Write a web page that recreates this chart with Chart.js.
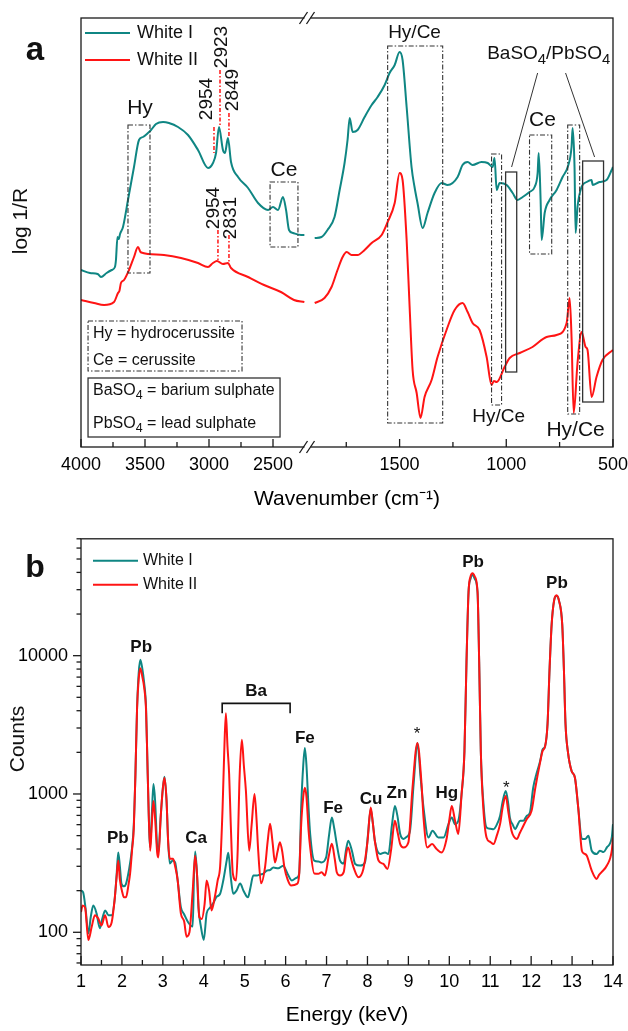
<!DOCTYPE html>
<html><head><meta charset="utf-8">
<script src="https://cdn.jsdelivr.net/npm/chart.js@4.4.1/dist/chart.umd.min.js"></script>
<style>
html,body{margin:0;padding:0;background:#fff;}
#wrap{position:relative;width:628px;height:1031px;}
canvas{position:absolute;left:0;}
#c1{top:0;} #c2{top:515px;}
</style></head><body>
<div id="wrap"><canvas id="c1" width="628" height="515"></canvas><canvas id="c2" width="628" height="516"></canvas></div>
<script>
const FONT = "'Liberation Sans', Arial, Helvetica, sans-serif";
const TEAL = '#0f8683';
const RED = '#ff1414';

// ---------- Panel a : FTIR (log 1/R, arbitrary units) ----------
const ftirWnI = [4000,3930,3870,3844,3800,3760,3735,3727,3715,3705,3695,3672,3633,3586,3547,3516,3477,3453,3414,3359,3313,3242,3164,3086,3008,2969,2945,2922,2891,2875,2852,2828,2773,2695,2617,2539,2500,2461,2422,2398,2375,2344,2281,2255,
  1898,1866,1838,1805,1781,1758,1744,1734,1720,1697,1664,1631,1603,1570,1547,1523,1500,1486,1467,1444,1430,1416,1392,1369,1336,1303,1275,1228,1205,1181,1158,1116,1087,1064,1055,1045,1031,998,970,947,923,891,867,853,848,839,834,820,797,764,736,712,694,689,680,675,666,647,623,600,595,563,530,506,500];
const ftirI = [1.77,1.74,1.73,1.70,1.74,1.77,1.80,1.87,2.10,2.08,2.13,2.20,2.47,2.80,3.07,3.10,3.14,3.17,3.23,3.25,3.24,3.20,3.12,2.97,2.79,2.84,2.94,3.20,2.97,2.94,3.09,2.85,2.70,2.59,2.44,2.37,2.40,2.37,2.50,2.37,2.17,2.14,2.12,2.12,
  2.09,2.10,2.17,2.30,2.57,2.84,3.07,3.29,3.15,3.17,3.30,3.42,3.50,3.62,3.74,3.82,3.95,3.87,3.40,2.80,2.60,2.44,2.19,2.34,2.54,2.64,2.62,2.70,2.82,2.85,2.82,2.85,2.84,2.80,2.89,2.57,2.64,2.62,2.54,2.47,2.50,2.55,2.60,2.74,2.94,2.47,2.07,2.34,2.47,2.57,2.70,2.80,3.00,3.19,2.80,2.14,2.40,2.60,2.65,2.67,2.62,2.65,2.67,2.77,2.80];
const ftirWnII = [4000,3898,3820,3742,3711,3700,3688,3664,3625,3586,3555,3535,3516,3477,3352,3219,3086,3008,2969,2938,2891,2852,2828,2695,2570,2438,2336,2255,
  1898,1852,1819,1791,1767,1748,1725,1697,1664,1631,1584,1556,1523,1500,1486,1467,1453,1439,1420,1402,1383,1350,1322,1275,1242,1205,1181,1158,1125,1092,1069,1058,1045,1008,984,937,877,811,764,717,703,694,684,666,647,628,619,600,577,549,500];
const ftirII = [1.47,1.44,1.42,1.45,1.54,1.56,1.64,1.67,1.77,1.90,2.00,1.95,1.94,1.93,1.92,1.89,1.84,1.80,1.84,1.86,1.83,1.84,1.79,1.70,1.62,1.55,1.47,1.45,
  1.44,1.49,1.60,1.77,1.90,1.95,1.92,1.92,1.97,2.04,2.12,2.25,2.44,2.74,2.67,2.07,1.40,0.77,0.54,0.29,0.50,0.67,0.90,1.20,1.37,1.44,1.35,1.24,1.17,0.90,0.62,0.66,0.65,0.80,0.89,0.94,1.00,1.10,1.12,1.24,1.49,1.10,0.34,0.84,1.15,1.00,0.97,0.50,0.70,0.87,0.97];
const wnMajorTicks = [4000,3500,3000,2500,1500,1000,500];
const wnMinorTicks = [3750,3250,2750,1750,1250,750];

// ---------- Panel b : XRF ----------
const xrfEnI = [1.00,1.05,1.11,1.18,1.24,1.30,1.38,1.46,1.52,1.59,1.67,1.75,1.82,1.87,1.91,1.95,1.99,2.05,2.10,2.17,2.24,2.29,2.33,2.37,2.41,2.45,2.50,2.54,2.59,2.63,2.69,2.73,2.77,2.81,2.86,2.89,2.95,3.00,3.04,3.09,3.13,3.17,3.24,3.30,3.36,3.44,3.52,3.61,3.68,3.73,3.76,3.79,3.83,3.87,3.93,4.00,4.07,4.15,4.23,4.31,4.40,4.48,4.56,4.60,4.66,4.72,4.80,4.89,4.97,5.08,5.14,5.21,5.30,5.38,5.46,5.54,5.62,5.70,5.82,5.94,6.05,6.15,6.27,6.33,6.38,6.43,6.47,6.51,6.56,6.60,6.70,6.80,6.87,6.99,7.06,7.13,7.19,7.25,7.33,7.42,7.48,7.53,7.62,7.70,7.82,7.94,8.01,8.08,8.13,8.18,8.31,8.43,8.51,8.60,8.67,8.73,8.80,8.88,8.96,9.04,9.13,9.22,9.30,9.37,9.49,9.59,9.73,9.86,9.98,10.06,10.14,10.22,10.30,10.37,10.42,10.47,10.52,10.57,10.62,10.69,10.73,10.77,10.83,10.91,11.00,11.08,11.16,11.24,11.31,11.38,11.44,11.48,11.55,11.61,11.67,11.73,11.81,11.89,11.97,12.05,12.13,12.22,12.28,12.34,12.40,12.45,12.50,12.56,12.62,12.68,12.76,12.80,12.84,12.90,12.99,13.07,13.15,13.24,13.32,13.40,13.48,13.60,13.68,13.77,13.85,13.97,14.00];
const xrfI = [200,195,150,98,130,156,137,107,125,144,133,133,170,260,378,300,224,215,224,280,389,600,1393,4170,7500,9350,8000,6500,4170,1393,411,700,1180,900,420,378,700,1100,1330,900,450,314,330,320,240,152,135,119,112,110,250,384,280,152,110,88,137,150,162,180,190,240,330,376,250,190,200,225,200,179,210,257,257,262,266,279,282,294,290,303,264,237,248,264,797,1600,2150,1600,797,513,330,325,320,348,500,675,560,434,330,314,400,459,389,312,304,320,500,776,620,459,368,378,368,600,820,700,513,473,490,542,1200,2340,1300,797,485,542,485,485,605,675,605,640,1000,2040,9000,28800,36000,38500,36000,28800,9000,2040,890,572,560,557,600,694,900,1050,850,675,600,557,600,640,640,694,734,1110,1400,1730,2100,2210,3190,8000,16700,25000,27000,25000,16700,8000,3190,2000,1460,1310,797,473,473,499,389,368,389,380,411,485,605];
const xrfEnII = [1.00,1.04,1.10,1.18,1.26,1.34,1.42,1.50,1.59,1.67,1.75,1.82,1.87,1.91,1.95,2.00,2.05,2.10,2.16,2.20,2.25,2.29,2.33,2.37,2.41,2.45,2.50,2.54,2.59,2.63,2.69,2.73,2.77,2.82,2.86,2.89,2.95,3.00,3.04,3.09,3.13,3.17,3.25,3.30,3.36,3.44,3.52,3.58,3.65,3.73,3.79,3.84,3.89,3.95,4.02,4.07,4.13,4.19,4.27,4.34,4.40,4.46,4.50,4.54,4.58,4.62,4.66,4.71,4.79,4.83,4.87,4.93,4.98,5.03,5.11,5.17,5.24,5.29,5.33,5.40,5.50,5.56,5.62,5.68,5.74,5.80,5.86,5.92,5.97,6.05,6.13,6.28,6.33,6.38,6.43,6.47,6.51,6.56,6.60,6.70,6.80,6.88,6.96,7.05,7.13,7.20,7.25,7.33,7.42,7.48,7.53,7.60,7.66,7.78,7.90,8.00,8.08,8.13,8.18,8.27,8.39,8.49,8.58,8.67,8.73,8.80,8.88,9.00,9.10,9.22,9.32,9.37,9.46,9.58,9.69,9.81,9.94,10.00,10.06,10.14,10.22,10.30,10.37,10.42,10.47,10.52,10.57,10.62,10.69,10.73,10.77,10.83,10.91,11.00,11.08,11.16,11.24,11.31,11.38,11.44,11.52,11.58,11.65,11.72,11.77,11.89,12.01,12.10,12.22,12.28,12.34,12.40,12.45,12.50,12.56,12.62,12.68,12.76,12.80,12.84,12.90,12.99,13.07,13.15,13.24,13.30,13.36,13.48,13.60,13.66,13.72,13.85,13.97,14.00];
const xrfII = [140,156,151,88,109,133,126,112,133,109,118,170,250,330,240,200,179,179,220,266,400,560,1393,4170,6800,8110,7000,6000,4000,1393,389,600,890,600,380,348,700,1100,1310,900,450,340,340,300,240,137,120,93,100,200,358,250,129,125,160,237,200,144,180,237,300,797,2000,3840,2200,1390,600,266,237,400,1200,2470,1600,1050,389,600,1000,650,389,226,300,450,608,450,320,380,447,380,295,240,218,224,260,600,950,1110,950,550,411,266,265,272,257,350,437,340,272,257,272,370,411,340,295,250,287,450,797,620,459,330,312,287,400,640,540,434,411,447,1100,2340,1200,675,411,434,400,378,485,650,820,640,513,1000,2040,9000,28800,37500,39500,37500,28800,9000,2040,797,485,450,434,500,605,820,967,750,542,490,473,520,557,657,755,1100,1700,2050,2210,3190,8000,16700,25000,27400,25000,16700,8000,3190,2000,1460,1310,797,389,370,358,279,243,260,272,304,389,485];
const keVTicks = [1,2,3,4,5,6,7,8,9,10,11,12,13,14];
const countTicks = [100,1000,10000];

// broken wavenumber axis: 4000..2250 and 1920..500 mapped onto one linear scale
function tx(w){ return w > 2000 ? (4000 - w) * 0.128 : 229 + (1920 - w) * 0.21333; }
const T_BREAK = 226.5;

function ftirPoints(wn, vals){
  const pts = [];
  for (let i = 0; i < wn.length; i++){
    if (i > 0 && wn[i-1] > 2000 && wn[i] <= 2000) pts.push({x: (tx(wn[i-1]) + tx(wn[i])) / 2, y: null});
    pts.push({x: tx(wn[i]), y: vals[i]});
  }
  return pts;
}
function xyPoints(xs, ys){ return xs.map((v, i) => ({x: v, y: ys[i]})); }

// ---------- drawing helpers ----------
function font(size, bold){ return (bold ? 'bold ' : '') + size + 'px ' + FONT; }
function text(ctx, s, x, y, o = {}){
  ctx.save();
  ctx.font = font(o.size || 18, o.bold);
  ctx.fillStyle = o.color || '#111';
  ctx.textAlign = o.align || 'center';
  ctx.textBaseline = o.baseline || 'middle';
  ctx.translate(x, y);
  if (o.rot) ctx.rotate(o.rot);
  ctx.fillText(s, 0, 0);
  ctx.restore();
}
function rich(ctx, parts, x, y, size, align){
  ctx.save();
  ctx.fillStyle = '#111';
  ctx.textBaseline = 'alphabetic'; ctx.textAlign = 'left';
  const ws = parts.map(([s, sub]) => { ctx.font = font(sub ? size * 0.78 : size); return ctx.measureText(s).width; });
  const tot = ws.reduce((a, b) => a + b, 0);
  let cx = align === 'center' ? x - tot / 2 : x;
  const base = y + size * 0.35;
  parts.forEach(([s, sub], i) => { ctx.font = font(sub ? size * 0.78 : size); ctx.fillText(s, cx, sub ? base + size * 0.3 : base); cx += ws[i]; });
  ctx.restore();
}
function line(ctx, x1, y1, x2, y2){ ctx.beginPath(); ctx.moveTo(x1, y1); ctx.lineTo(x2, y2); ctx.stroke(); }

// ---------- annotations for panel a (data coordinates: wavenumber, log 1/R) ----------
const annBoxesA = [
  {w: [3633, 3461], v: [3.22, 1.74], dash: true},
  {w: [2523, 2305], v: [2.65, 2.00], dash: true},
  {w: [1556, 1298], v: [4.01, 0.24], dash: true},
  {w: [1069, 1022], v: [2.93, 0.42], dash: true},
  {w: [1003, 951], v: [2.75, 0.75], dash: false},
  {w: [891, 787], v: [3.12, 1.93], dash: true},
  {w: [712, 656], v: [3.22, 0.33], dash: true},
  {w: [642, 544], v: [2.86, 0.45], dash: false},
  {w: [3945, 2742], v: [1.26, 0.76], dash: true},
  {w: [3945, 2445], v: [0.69, 0.10], dash: false}
];
const annTextA = [
  {s: 'Hy', w: 3539, v: 3.39, size: 21},
  {s: 'Ce', w: 2414, v: 2.77, size: 21},
  {s: 'Hy/Ce', w: 1430, v: 4.14, size: 19},
  {s: 'Ce', w: 830, v: 3.27, size: 21},
  {s: 'Hy/Ce', w: 1036, v: 0.30, size: 19},
  {s: 'Hy/Ce', w: 675, v: 0.17, size: 21},
  {s: '2954', w: 3016, v: 3.48, size: 19, rot: true},
  {s: '2923', w: 2898, v: 4.00, size: 19, rot: true},
  {s: '2849', w: 2813, v: 3.57, size: 19, rot: true},
  {s: '2954', w: 2962, v: 2.39, size: 19, rot: true},
  {s: '2831', w: 2832, v: 2.29, size: 19, rot: true},
  {s: 'Hy = hydrocerussite', w: 3906, v: 1.13, size: 16, left: true},
  {s: 'Ce = cerussite', w: 3906, v: 0.86, size: 16, left: true}
];
const peakMarksA = [
  {w: 2961, v: [3.20, 2.94]}, {w: 2914, v: [3.77, 3.22]}, {w: 2844, v: [3.34, 3.10]},
  {w: 2930, v: [2.17, 1.87]}, {w: 2844, v: [2.12, 1.84]}
];

const annA = {
  id: 'annA',
  afterDraw(chart){
    const {ctx, chartArea: ca, scales: {x, y}} = chart;
    const P = (w, v) => [x.getPixelForValue(tx(w)), y.getPixelForValue(v)];
    ctx.save();
    // frame
    ctx.strokeStyle = '#1a1a1a'; ctx.lineWidth = 1.3;
    ctx.strokeRect(ca.left, ca.top, ca.width, ca.height);
    // inward ticks
    wnMajorTicks.forEach(w => { const px = x.getPixelForValue(tx(w)); line(ctx, px, ca.bottom, px, ca.bottom - 8); });
    wnMinorTicks.forEach(w => { const px = x.getPixelForValue(tx(w)); line(ctx, px, ca.bottom, px, ca.bottom - 5); });
    // axis break marks
    const bx = x.getPixelForValue(T_BREAK);
    [ca.top, ca.bottom].forEach(yy => {
      ctx.fillStyle = '#fff'; ctx.fillRect(bx - 3, yy - 3, 6, 6);
      ctx.strokeStyle = '#1a1a1a'; ctx.lineWidth = 1.3;
      line(ctx, bx - 8, yy + 6, bx, yy - 6);
      line(ctx, bx - 1, yy + 6, bx + 7, yy - 6);
    });
    // boxes
    annBoxesA.forEach(b => {
      const [x1, y1] = P(b.w[0], b.v[0]); const [x2, y2] = P(b.w[1], b.v[1]);
      ctx.strokeStyle = '#333';
      ctx.lineWidth = b.dash ? 1.1 : 1.3;
      ctx.setLineDash(b.dash ? [5, 2, 1.5, 2] : []);
      ctx.strokeRect(x1, y1, x2 - x1, y2 - y1);
    });
    ctx.setLineDash([]);
    // red peak marker lines
    ctx.strokeStyle = RED; ctx.lineWidth = 1.5; ctx.setLineDash([4, 2, 1.5, 2]);
    peakMarksA.forEach(m => { const [px, p1] = P(m.w, m.v[0]); const p2 = y.getPixelForValue(m.v[1]); line(ctx, px, p1, px, p2); });
    ctx.setLineDash([]);
    // leader lines to BaSO4/PbSO4
    ctx.strokeStyle = '#333'; ctx.lineWidth = 1;
    let a = P(853, 3.74), b = P(975, 2.80); line(ctx, a[0], a[1], b[0], b[1]);
    a = P(722, 3.74); b = P(586, 2.90); line(ctx, a[0], a[1], b[0], b[1]);
    // texts
    annTextA.forEach(t => {
      const [px, py] = P(t.w, t.v);
      text(ctx, t.s, px, py, {size: t.size, rot: t.rot ? -Math.PI / 2 : 0, align: t.left ? 'left' : 'center'});
    });
    let q = P(801, 3.95);
    rich(ctx, [['BaSO', 0], ['4', 1], ['/PbSO', 0], ['4', 1]], q[0], q[1], 19, 'center');
    q = P(3906, 0.58);
    rich(ctx, [['BaSO', 0], ['4', 1], [' = barium sulphate', 0]], q[0], q[1], 16, 'left');
    q = P(3906, 0.25);
    rich(ctx, [['PbSO', 0], ['4', 1], [' = lead sulphate', 0]], q[0], q[1], 16, 'left');
    // legend
    ctx.lineWidth = 2;
    ctx.strokeStyle = TEAL; line(ctx, ca.left + 4, ca.top + 15, ca.left + 49, ca.top + 15);
    ctx.strokeStyle = RED; line(ctx, ca.left + 4, ca.top + 42, ca.left + 49, ca.top + 42);
    text(ctx, 'White I', ca.left + 56, ca.top + 15, {size: 18, align: 'left'});
    text(ctx, 'White II', ca.left + 56, ca.top + 42, {size: 18, align: 'left'});
    // y title and panel letter
    text(ctx, 'log 1/R', 21, 221, {size: 21, rot: -Math.PI / 2});
    text(ctx, 'a', 35, 60, {size: 33, bold: true, baseline: 'alphabetic'});
    ctx.restore();
  }
};

// ---------- annotations for panel b (data coordinates: keV, counts) ----------
const annTextB = [
  {s: 'Pb', e: 1.90, c: 482}, {s: 'Pb', e: 2.47, c: 11400}, {s: 'Ca', e: 3.81, c: 482},
  {s: 'Ba', e: 5.28, c: 5510}, {s: 'Fe', e: 6.47, c: 2530}, {s: 'Fe', e: 7.16, c: 793},
  {s: 'Cu', e: 8.09, c: 920}, {s: 'Zn', e: 8.72, c: 1017}, {s: '*', e: 9.21, c: 2700},
  {s: 'Hg', e: 9.94, c: 1017}, {s: 'Pb', e: 10.58, c: 47400}, {s: 'Pb', e: 12.63, c: 33500},
  {s: '*', e: 11.39, c: 1100}
];
const baBracket = {e: [4.45, 6.11], c: [4520, 3830]};

const annB = {
  id: 'annB',
  afterDraw(chart){
    const {ctx, chartArea: ca, scales: {x, y}} = chart;
    const Q = (e, c) => [x.getPixelForValue(e), y.getPixelForValue(c)];
    ctx.save();
    ctx.strokeStyle = '#1a1a1a'; ctx.lineWidth = 1.3;
    ctx.strokeRect(ca.left, ca.top, ca.width, ca.height);
    // x ticks inward
    for (let e = 1; e <= 14.001; e += 0.5){
      const px = x.getPixelForValue(e);
      const major = Math.abs(e - Math.round(e)) < 0.01;
      line(ctx, px, ca.bottom, px, ca.bottom - (major ? 9 : 5));
    }
    // y ticks outward (log)
    for (let d = 10; d <= 10000; d *= 10){
      for (let m = 1; m <= 9; m++){
        const v = m * d;
        if (v < y.min || v > y.max) continue;
        const py = y.getPixelForValue(v);
        line(ctx, ca.left, py, ca.left - (m === 1 ? 8 : 4.5), py);
      }
    }
    // peak labels
    annTextB.forEach(t => { const [px, py] = Q(t.e, t.c); text(ctx, t.s, px, py, {size: 17, bold: t.s !== '*'}); });
    // Ba bracket
    ctx.lineWidth = 1.6; ctx.strokeStyle = '#111';
    const [bx1, by1] = Q(baBracket.e[0], baBracket.c[0]);
    const [bx2, by2] = Q(baBracket.e[1], baBracket.c[1]);
    ctx.beginPath(); ctx.moveTo(bx1, by2); ctx.lineTo(bx1, by1); ctx.lineTo(bx2, by1); ctx.lineTo(bx2, by2); ctx.stroke();
    // legend
    ctx.lineWidth = 2;
    ctx.strokeStyle = TEAL; line(ctx, ca.left + 12, ca.top + 22, ca.left + 57, ca.top + 22);
    ctx.strokeStyle = RED; line(ctx, ca.left + 12, ca.top + 46, ca.left + 57, ca.top + 46);
    text(ctx, 'White I', ca.left + 62, ca.top + 22, {size: 16, align: 'left'});
    text(ctx, 'White II', ca.left + 62, ca.top + 46, {size: 16, align: 'left'});
    text(ctx, 'Counts', 18, 224, {size: 21, rot: -Math.PI / 2});
    text(ctx, 'b', 35, 62, {size: 32, bold: true, baseline: 'alphabetic'});
    ctx.restore();
  }
};

const common = {responsive: false, animation: false, devicePixelRatio: 1, events: [],
  plugins: {legend: {display: false}, tooltip: {enabled: false}}};
const noSidePad = s => { s.paddingLeft = 0; s.paddingRight = 0; };

new Chart(document.getElementById('c1'), {
  type: 'line',
  data: {datasets: [
    {label: 'White I', data: ftirPoints(ftirWnI, ftirI), borderColor: TEAL, borderWidth: 2, pointRadius: 0, cubicInterpolationMode: 'monotone', order: 1},
    {label: 'White II', data: ftirPoints(ftirWnII, ftirII), borderColor: RED, borderWidth: 2, pointRadius: 0, cubicInterpolationMode: 'monotone', order: 0}
  ]},
  options: Object.assign({}, common, {
    layout: {padding: {left: 81, top: 18, right: 15, bottom: 0}},
    scales: {
      x: {type: 'linear', min: 0, max: 532,
        afterBuildTicks: s => { s.ticks = wnMajorTicks.map(w => ({value: tx(w)})); },
        afterFit: s => { s.height = 68; noSidePad(s); },
        grid: {display: false, drawTicks: false}, border: {display: false},
        ticks: {autoSkip: false, maxRotation: 0, minRotation: 0, padding: 7, color: '#000', font: {family: FONT, size: 18},
          callback: (v, i) => String(wnMajorTicks[i])},
        title: {display: true, text: 'Wavenumber (cm\u207B\u00B9)', color: '#000', font: {family: FONT, size: 21}, padding: {top: 0, bottom: 3}}
      },
      y: {display: false, min: 0, max: 4.29}
    }
  }),
  plugins: [annA]
});

new Chart(document.getElementById('c2'), {
  type: 'line',
  data: {datasets: [
    {label: 'White I', data: xyPoints(xrfEnI, xrfI), borderColor: TEAL, borderWidth: 2, pointRadius: 0, cubicInterpolationMode: 'monotone', order: 1},
    {label: 'White II', data: xyPoints(xrfEnII, xrfII), borderColor: RED, borderWidth: 2, pointRadius: 0, cubicInterpolationMode: 'monotone', order: 0}
  ]},
  options: Object.assign({}, common, {
    layout: {padding: {left: 0, top: 21, right: 15, bottom: 0}},
    scales: {
      x: {type: 'linear', min: 1, max: 14,
        afterBuildTicks: s => { s.ticks = keVTicks.map(v => ({value: v})); },
        afterFit: s => { s.height = 66; noSidePad(s); },
        grid: {display: false, drawTicks: false}, border: {display: false},
        ticks: {autoSkip: false, maxRotation: 0, minRotation: 0, padding: 6, color: '#000', font: {family: FONT, size: 18},
          callback: v => String(v)},
        title: {display: true, text: 'Energy (keV)', color: '#000', font: {family: FONT, size: 21}, padding: {top: 0, bottom: 3}}
      },
      y: {type: 'logarithmic', min: 58, max: 70000,
        afterBuildTicks: s => { s.ticks = countTicks.map(v => ({value: v})); },
        afterFit: s => { s.width = 81; },
        grid: {display: false, drawTicks: false}, border: {display: false},
        ticks: {autoSkip: false, padding: 13, color: '#000', font: {family: FONT, size: 18}, callback: v => String(v)}
      }
    }
  }),
  plugins: [annB]
});
</script>
</body></html>
